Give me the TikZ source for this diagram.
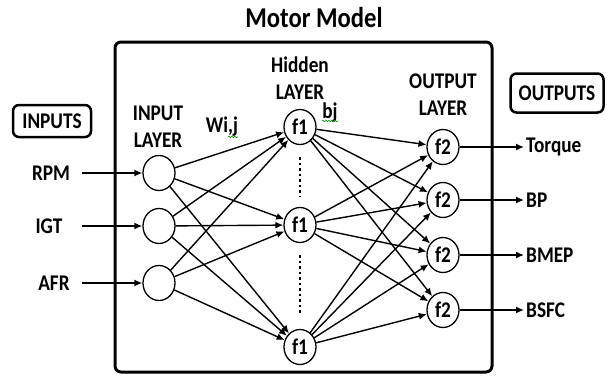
\documentclass[tikz,border=0pt]{standalone}
\usepackage{fontspec}
\setmainfont{Carlito}[FakeStretch=0.86]
\usepackage{tikz}
\usetikzlibrary{arrows.meta,shapes.geometric,decorations.pathmorphing}
\tikzset{>={Latex[length=8pt,width=7pt]}}
\tikzset{
  unit/.style={draw,ellipse,line width=1.3pt,minimum width=32pt,minimum height=35pt,inner sep=0pt},
  wire/.style={->,line width=1.4pt},
  tag/.style={draw,rounded corners=6pt,line width=2.5pt},
  dots/.style={line width=2.5pt,dash pattern=on 2.5pt off 3pt,shorten <=12pt},
  squig/.style={green!60!black,line width=0.6pt,decorate,decoration={snake,amplitude=0.8pt,segment length=3pt}}
}

\begin{document}
\begin{tikzpicture}[x=1pt,y=-1pt,every node/.style={font=\bfseries\fontsize{22.4}{27}\selectfont}]
\useasboundingbox (0,0) rectangle (611,376);

% Title and frame
\node[font=\bfseries\fontsize{28.7}{32}\selectfont] (title) at (314,18) {Motor Model};
\draw[line width=3pt,rounded corners=6pt] (115,42) rectangle (492,372);

% Boxes
\node[tag,minimum width=78pt,minimum height=32pt] (inputs) at (52,121) {INPUTS};
\node[tag,minimum width=93pt,minimum height=39pt] (outputs) at (557,93) {OUTPUTS};

% Layer names
\node[align=center] (inlayer) at (158,127) {INPUT\\LAYER};
\node[align=center] (hidlayer) at (300,78) {Hidden\\LAYER};
\node[align=center] (outlayer) at (443,95) {OUTPUT\\LAYER};
\node (wij) at (222,127) {Wi,j};
\node (bj) at (330,113) {bj};
\draw[squig] (228,137) -- (238,137);
\draw[squig] (322,121) -- (338,121);

% Units
\node[unit] (i1) at (159,173) {};
\node[unit] (i2) at (159,226) {};
\node[unit] (i3) at (159,283) {};

\node[unit] (h1) at (300,127) {f1};
\node[unit] (h2) at (300,225) {f1};
\node[unit] (h3) at (300,347) {f1};

\node[unit] (o1) at (443,147) {f2};
\node[unit] (o2) at (443,200) {f2};
\node[unit] (o3) at (443,255) {f2};
\node[unit] (o4) at (443,310) {f2};

\draw[dots,shorten >=10pt] (h1) -- (h2);
\draw[dots,shorten >=16pt] (h2) -- (h3);

% Inputs
\node (rpm) at (51,173) {RPM};
\node (igt) at (49,226) {IGT};
\node (afr) at (54,283) {AFR};
\coordinate (s1) at (82,173);
\coordinate (s2) at (82,226);
\coordinate (s3) at (82,283);
\draw[wire] (s1) -- (i1);
\draw[wire] (s2) -- (i2);
\draw[wire] (s3) -- (i3);

% Outputs
\node[anchor=west,inner sep=2pt] (torque) at (524,147) {Torque};
\node[anchor=west,inner sep=2pt] (bp) at (524,200) {BP};
\node[anchor=west,inner sep=2pt] (bmep) at (524,255) {BMEP};
\node[anchor=west,inner sep=2pt] (bsfc) at (524,310) {BSFC};
\draw[wire] (o1) -- (torque);
\draw[wire] (o2) -- (bp);
\draw[wire] (o3) -- (bmep);
\draw[wire] (o4) -- (bsfc);

% Input to hidden
\draw[wire] (i1) -- (h1);
\draw[wire] (i1) -- (h2);
\draw[wire] (i1) -- (h3);
\draw[wire] (i2) -- (h1);
\draw[wire] (i2) -- (h2);
\draw[wire] (i2) -- (h3);
\draw[wire] (i3) -- (h1);
\draw[wire] (i3) -- (h2);
\draw[wire] (i3) -- (h3);

% Hidden to output
\draw[wire] (h1) -- (o1);
\draw[wire] (h1) -- (o2);
\draw[wire] (h1) -- (o3);
\draw[wire] (h1) -- (o4);
\draw[wire] (h2) -- (o1);
\draw[wire] (h2) -- (o2);
\draw[wire] (h2) -- (o3);
\draw[wire] (h2) -- (o4);
\draw[wire] (h3) -- (o1);
\draw[wire] (h3) -- (o2);
\draw[wire] (h3) -- (o3);
\draw[wire] (h3) -- (o4);

\end{tikzpicture}
\end{document}
